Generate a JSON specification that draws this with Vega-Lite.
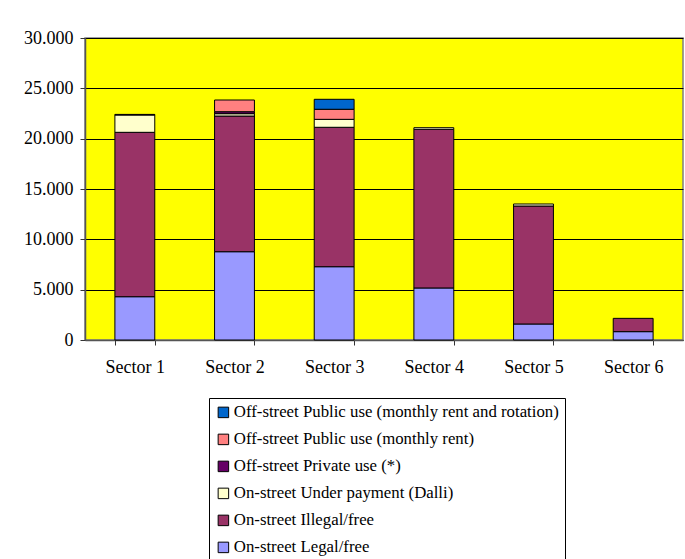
{
  "$schema": "https://vega.github.io/schema/vega-lite/v6.json",
  "width": 598,
  "height": 302,
  "autosize": {"type": "none"},
  "padding": {"left": 85, "top": 38, "right": 2, "bottom": 219},
  "background": "white",
  "data": {
    "values": [
      {"sector": "Sector 1", "cat": "On-street Legal/free", "k": 1, "value": 4300},
      {"sector": "Sector 1", "cat": "On-street Illegal/free", "k": 2, "value": 16330},
      {"sector": "Sector 1", "cat": "On-street Under payment (Dalli)", "k": 3, "value": 1720},
      {"sector": "Sector 1", "cat": "Off-street Private use (*)", "k": 4, "value": 60},

      {"sector": "Sector 2", "cat": "On-street Legal/free", "k": 1, "value": 8770},
      {"sector": "Sector 2", "cat": "On-street Illegal/free", "k": 2, "value": 13480},
      {"sector": "Sector 2", "cat": "On-street Under payment (Dalli)", "k": 3, "value": 230},
      {"sector": "Sector 2", "cat": "Off-street Private use (*)", "k": 4, "value": 200},
      {"sector": "Sector 2", "cat": "Off-street Public use (monthly rent)", "k": 5, "value": 1160},

      {"sector": "Sector 3", "cat": "On-street Legal/free", "k": 1, "value": 7280},
      {"sector": "Sector 3", "cat": "On-street Illegal/free", "k": 2, "value": 13850},
      {"sector": "Sector 3", "cat": "On-street Under payment (Dalli)", "k": 3, "value": 790},
      {"sector": "Sector 3", "cat": "Off-street Public use (monthly rent)", "k": 5, "value": 1000},
      {"sector": "Sector 3", "cat": "Off-street Public use (monthly rent and rotation)", "k": 6, "value": 990},

      {"sector": "Sector 4", "cat": "On-street Legal/free", "k": 1, "value": 5170},
      {"sector": "Sector 4", "cat": "On-street Illegal/free", "k": 2, "value": 15760},
      {"sector": "Sector 4", "cat": "On-street Under payment (Dalli)", "k": 3, "value": 160},

      {"sector": "Sector 5", "cat": "On-street Legal/free", "k": 1, "value": 1590},
      {"sector": "Sector 5", "cat": "On-street Illegal/free", "k": 2, "value": 11720},
      {"sector": "Sector 5", "cat": "On-street Under payment (Dalli)", "k": 3, "value": 200},

      {"sector": "Sector 6", "cat": "On-street Legal/free", "k": 1, "value": 830},
      {"sector": "Sector 6", "cat": "On-street Illegal/free", "k": 2, "value": 1320}
    ]
  },
  "mark": {"type": "bar", "stroke": "black", "strokeWidth": 1},
  "encoding": {
    "x": {
      "field": "sector",
      "type": "nominal",
      "title": null,
      "scale": {"paddingInner": 0.6, "paddingOuter": 0.3},
      "axis": {
        "labelAngle": 0,
        "tickBand": "extent",
        "tickSize": 5,
        "tickColor": "#333333",
        "domainColor": "#555555",
        "domainWidth": 1.5,
        "labelPadding": 13,
        "labelFont": "Liberation Serif",
        "labelFontSize": 18,
        "labelColor": "black",
        "grid": false
      }
    },
    "y": {
      "field": "value",
      "type": "quantitative",
      "aggregate": "sum",
      "stack": "zero",
      "title": null,
      "scale": {"domain": [0, 30000], "nice": false},
      "axis": {
        "values": [0, 5000, 10000, 15000, 20000, 25000, 30000],
        "labelExpr": "replace(format(datum.value, ','), ',', '.')",
        "tickSize": 5,
        "tickColor": "#333333",
        "domainColor": "#555555",
        "domainWidth": 1.5,
        "labelPadding": 7,
        "labelFont": "Liberation Serif",
        "labelFontSize": 18,
        "labelColor": "black",
        "grid": true,
        "gridColor": "black",
        "gridWidth": 1
      }
    },
    "color": {
      "field": "cat",
      "type": "nominal",
      "scale": {
        "domain": [
          "Off-street Public use (monthly rent and rotation)",
          "Off-street Public use (monthly rent)",
          "Off-street Private use (*)",
          "On-street Under payment (Dalli)",
          "On-street Illegal/free",
          "On-street Legal/free"
        ],
        "range": ["#0066CC", "#FF8080", "#660066", "#FFFFCC", "#993366", "#9999FF"]
      },
      "legend": {
        "title": null,
        "orient": "none",
        "legendX": 124,
        "legendY": 360,
        "direction": "vertical",
        "strokeColor": "black",
        "fillColor": "white",
        "padding": 6,
        "rowPadding": 9,
        "symbolType": "square",
        "symbolSize": 110,
        "symbolStrokeColor": "black",
        "symbolStrokeWidth": 1,
        "symbolOpacity": 1,
        "labelFont": "Liberation Serif",
        "labelFontSize": 16.8,
        "labelColor": "black",
        "labelLimit": 0,
        "labelOffset": 2
      }
    },
    "order": {"field": "k", "type": "quantitative", "sort": "ascending"}
  },
  "config": {
    "view": {"fill": "#FFFF00", "stroke": "#808080", "strokeWidth": 1.5}
  }
}
